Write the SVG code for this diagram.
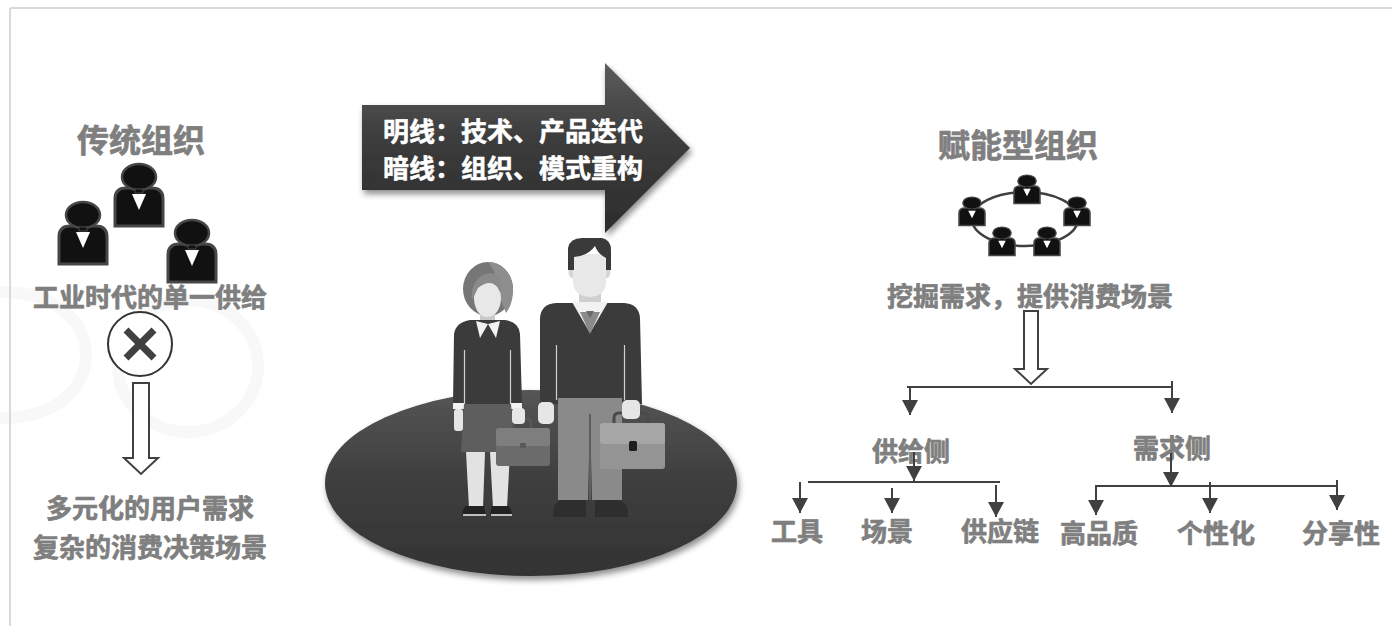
<svg xmlns="http://www.w3.org/2000/svg" width="1392" height="626" viewBox="0 0 1392 626">
  <defs>
    <style>
      .t { font-family: "Noto Sans CJK SC", "Liberation Sans", sans-serif; font-weight: bold; stroke-width: 0.7; stroke-linejoin: round; }
      .title { font-size: 32px; fill: #7f7f7f; stroke: #7f7f7f; text-anchor: middle; }
      .lbl { font-size: 26px; fill: #7f7f7f; stroke: #7f7f7f; text-anchor: middle; }
      .banner { font-size: 26px; fill: #ffffff; stroke: #ffffff; stroke-width: 0.5; }
      .line { stroke: #404040; stroke-width: 2; fill: none; }
      .arrow { stroke: #404040; stroke-width: 2; fill: none; marker-end: url(#tip); }
      .hollow { stroke: #404040; stroke-width: 2; fill: #ffffff; }
      .wm { stroke: #f8f8f8; stroke-width: 12; fill: none; }
    </style>
    <marker id="tip" markerUnits="userSpaceOnUse" markerWidth="16" markerHeight="16" refX="15" refY="8" orient="auto">
      <path d="M0,0 L15,8 L0,16 Z" fill="#404040"/>
    </marker>
    <!-- business person icon, head centred at 0,0 -->
    <g id="person">
      <path d="M-24,49 V22 Q-24,11 -13,11 H13 Q24,11 24,22 V49 Z" fill="#111" stroke="#464646" stroke-width="3"/>
      <ellipse cx="0" cy="0" rx="17" ry="13" fill="#111" stroke="#464646" stroke-width="2.5"/>
      <rect x="-4" y="12" width="8" height="4" fill="#111" stroke="#464646" stroke-width="1"/>
      <path d="M-7,17 L7,17 L0,33 Z" fill="#ffffff"/>
    </g>
    <linearGradient id="bannerFill" x1="0" y1="0" x2="0" y2="1">
      <stop offset="0" stop-color="#5c5c5c"/>
      <stop offset="0.45" stop-color="#3c3c3c"/>
      <stop offset="1" stop-color="#2c2c2c"/>
    </linearGradient>
    <linearGradient id="stageFill" x1="0" y1="0" x2="0" y2="1">
      <stop offset="0" stop-color="#555555"/>
      <stop offset="0.5" stop-color="#3e3e3e"/>
      <stop offset="1" stop-color="#333333"/>
    </linearGradient>
    <filter id="shadow" x="-10%" y="-10%" width="125%" height="130%">
      <feDropShadow dx="2" dy="4" stdDeviation="3" flood-color="#000" flood-opacity="0.45"/>
    </filter>
  </defs>

  <rect x="0" y="0" width="1392" height="626" fill="#ffffff"/>

  <!-- faint background mark -->
  <g id="watermark">
    <path class="wm" d="M0 292 C62 292 86 326 86 354 C86 384 62 418 0 418"/>
    <ellipse class="wm" cx="188" cy="366" rx="70" ry="66"/>
  </g>

  <!-- page frame -->
  <g id="frame" stroke="#d9d9d9" stroke-width="2" fill="none">
    <line x1="10" y1="8" x2="1392" y2="8"/>
    <line x1="10" y1="8" x2="10" y2="626"/>
  </g>

  <!-- traditional organisation -->
  <g id="node-traditional">
    <text class="t title" x="141" y="152">传统组织</text>
    <use href="#person" transform="translate(139,177)"/>
    <use href="#person" transform="translate(83,215)"/>
    <use href="#person" transform="translate(192,233)"/>
  </g>
  <g id="node-single-supply">
    <text class="t lbl" x="150" y="307">工业时代的单一供给</text>
  </g>
  <g id="node-reject">
    <circle cx="140" cy="344" r="32" fill="#ffffff" stroke="#333" stroke-width="2"/>
    <path d="M126,330 L154,358 M154,330 L126,358" stroke="#404040" stroke-width="7"/>
  </g>
  <g id="node-diverse">
    <text class="t lbl" x="150" y="518">多元化的用户需求</text>
    <text class="t lbl" x="150" y="557">复杂的消费决策场景</text>
  </g>

  <!-- banner arrow -->
  <g id="node-banner">
    <path d="M362,105 H605 V63 L690,148 L605,233 V190 H362 Z" fill="url(#bannerFill)" filter="url(#shadow)"/>
    <text class="t banner" x="383" y="141">明线：技术、产品迭代</text>
    <text class="t banner" x="383" y="178">暗线：组织、模式重构</text>
  </g>

  <!-- stage with two figures -->
  <g id="node-people">
    <ellipse cx="531" cy="483" rx="206" ry="93" fill="url(#stageFill)" filter="url(#shadow)"/>

    <!-- woman -->
    <g id="woman">
      <ellipse cx="488" cy="289" rx="25" ry="27" fill="#767676"/>
      <path d="M488,262 C503,262 513,275 513,290 C513,300 510,308 506,313 L501,300 C500,285 496,272 488,262 Z" fill="#8e8e8e"/>
      <rect x="480" y="310" width="15" height="16" fill="#cacaca"/>
      <path d="M474,298 C474,287 480,282 487,282 C495,282 501,288 501,298 C501,309 495,317 487,317 C480,317 474,309 474,298 Z" fill="#e8e8e8"/>
      <path d="M472,300 C470,282 482,270 496,274 C502,277 503,284 500,292 C496,282 488,280 478,288 Z" fill="#8a8a8a"/>
      <path d="M453,404 L454,334 Q456,322 470,320 L505,320 Q519,322 520,334 L522,404 Z" fill="#3b3b3b"/>
      <path d="M476,321 L488,324 L480,338 Z M500,321 L488,324 L496,338 Z" fill="#f2f2f2"/>
      <path d="M464.5,350 V404 M510.5,350 V404" stroke="#cfcfcf" stroke-width="1.2"/>
      <rect x="453" y="403" width="11" height="6" fill="#f2f2f2"/>
      <rect x="511" y="403" width="11" height="6" fill="#f2f2f2"/>
      <path d="M464,404 L511,404 L515,452 L461,452 Z" fill="#5e5e5e"/>
      <rect x="454" y="409" width="9" height="22" rx="3" fill="#e6e6e6"/>
      <path d="M466,452 L485,452 L483,508 L469,508 Z" fill="#e2e2e2"/>
      <path d="M490,452 L510,452 L507,508 L493,508 Z" fill="#e2e2e2"/>
      <path d="M466,506 L484,506 L486,516 L462,516 Q462,509 466,506 Z" fill="#222"/>
      <path d="M492,506 L508,506 Q512,509 512,516 L490,516 Z" fill="#222"/>
      <path d="M463,515 H486 M491,515 H512" stroke="#f2f2f2" stroke-width="1.5"/>
      <!-- briefcase -->
      <path d="M513,428 V423 Q513,419 517,419 H527 Q531,419 531,423 V428" stroke="#555" stroke-width="3" fill="none"/>
      <rect x="496" y="428" width="54" height="38" rx="3" fill="#6b6b6b"/>
      <path d="M496,431 Q496,428 499,428 H547 Q550,428 550,431 V444 Q550,446 546,446 H500 Q496,446 496,444 Z" fill="#7e7e7e"/>
      <rect x="520" y="443" width="6" height="5" rx="1" fill="#5a5a5a"/>
      <rect x="512" y="408" width="13" height="16" rx="4" fill="#e6e6e6"/>
    </g>

    <!-- man -->
    <g id="man">
      <rect x="579" y="288" width="22" height="18" fill="#cfcfcf"/>
      <ellipse cx="572" cy="272" rx="3.5" ry="6" fill="#d6d6d6"/>
      <ellipse cx="607" cy="272" rx="3.5" ry="6" fill="#d6d6d6"/>
      <path d="M573,254 L606,254 L606,281 Q606,296 590,297 Q573,296 573,281 Z" fill="#e8e8e8"/>
      <path d="M568,270 L568,248 Q570,238 582,238 L602,238 Q611,240 611,250 L611,270 L606,270 L606,258 Q598,254 595,246 Q588,256 574,257 L574,270 Z" fill="#3a3a3a"/>
      <path d="M540,404 L540,318 Q541,304 556,303 L624,303 Q639,304 640,318 L642,404 Z" fill="#3b3b3b"/>
      <path d="M572,302 L608,302 L590,333 Z" fill="#f2f2f2"/>
      <path d="M580,312 L600,312 L590,334 Z" fill="#8a8a8a"/>
      <path d="M586,311 L594,311 L590,318 Z" fill="#6a6a6a"/>
      <path d="M556.5,345 V400 M624.5,345 V400" stroke="#cfcfcf" stroke-width="1.2"/>
      <path d="M558,398 L622,398 L622,500 L592,500 L590,415 L588,500 L558,500 Z" fill="#8a8a8a"/>
      <path d="M590,414 V500" stroke="#5e5e5e" stroke-width="2"/>
      <path d="M553,512 Q553,502 562,500 L586,500 L586,517 L553,517 Z" fill="#2e2e2e"/>
      <path d="M595,500 L618,500 Q628,502 628,512 L628,517 L595,517 Z" fill="#2e2e2e"/>
      <rect x="538" y="402" width="16" height="22" rx="5" fill="#e6e6e6"/>
      <!-- briefcase -->
      <path d="M614,423 V418 Q614,413 619,413 H643 Q648,413 648,418 V423" stroke="#4a4a4a" stroke-width="3" fill="none"/>
      <rect x="600" y="423" width="65" height="46" rx="3" fill="#949494"/>
      <path d="M600,426 Q600,423 603,423 H662 Q665,423 665,426 V441 Q665,444 661,444 H604 Q600,444 600,441 Z" fill="#a6a6a6"/>
      <rect x="629" y="441" width="8" height="10" rx="1.5" fill="#1e1e1e"/>
      <rect x="622" y="400" width="18" height="19" rx="5" fill="#e6e6e6"/>
    </g>
  </g>

  <!-- enabling organisation -->
  <g id="node-enabling">
    <text class="t title" x="1018" y="157">赋能型组织</text>
    <ellipse cx="1025" cy="219" rx="53" ry="27" fill="none" stroke="#404040" stroke-width="2.5"/>
    <use href="#person" transform="translate(1027,181) scale(0.54,0.46)"/>
    <use href="#person" transform="translate(972,203) scale(0.54,0.46)"/>
    <use href="#person" transform="translate(1077,203) scale(0.54,0.46)"/>
    <use href="#person" transform="translate(1002,233) scale(0.54,0.46)"/>
    <use href="#person" transform="translate(1047,233) scale(0.54,0.46)"/>
  </g>
  <g id="node-mining">
    <text class="t lbl" x="1030" y="306">挖掘需求，提供消费场景</text>
  </g>

  <g id="node-supply"><text class="t lbl" x="911" y="461">供给侧</text></g>
  <g id="node-demand"><text class="t lbl" x="1172" y="458">需求侧</text></g>
  <g id="node-tools"><text class="t lbl" x="797" y="541">工具</text></g>
  <g id="node-scenes"><text class="t lbl" x="887" y="541">场景</text></g>
  <g id="node-chain"><text class="t lbl" x="1000" y="541">供应链</text></g>
  <g id="node-quality"><text class="t lbl" x="1099" y="543">高品质</text></g>
  <g id="node-personal"><text class="t lbl" x="1216" y="543">个性化</text></g>
  <g id="node-sharing"><text class="t lbl" x="1341" y="543">分享性</text></g>

  <!-- connectors -->
  <g id="connectors">
    <path class="hollow" d="M133,383 H149 V458 H158 L141,474 L124,458 H133 Z"/>
    <path class="hollow" d="M1024,311 H1038 V369 H1047 L1031,384 L1015,369 H1024 Z"/>

    <line class="line" x1="907" y1="387" x2="1172" y2="387"/>
    <line class="arrow" x1="910" y1="387" x2="910" y2="415"/>
    <line class="arrow" x1="1172" y1="381" x2="1172" y2="413"/>

    <line class="arrow" x1="914" y1="452" x2="914" y2="481"/>
    <line class="line" x1="808" y1="482" x2="1000" y2="482"/>
    <line class="arrow" x1="800" y1="482" x2="800" y2="513"/>
    <line class="arrow" x1="892" y1="488" x2="892" y2="513"/>
    <line class="arrow" x1="996" y1="485" x2="996" y2="517"/>

    <line class="arrow" x1="1171" y1="453" x2="1171" y2="487"/>
    <line class="line" x1="1095" y1="486" x2="1337" y2="486"/>
    <line class="arrow" x1="1096" y1="486" x2="1096" y2="515"/>
    <line class="arrow" x1="1210" y1="482" x2="1210" y2="513"/>
    <line class="arrow" x1="1337" y1="480" x2="1337" y2="510"/>
  </g>
</svg>
